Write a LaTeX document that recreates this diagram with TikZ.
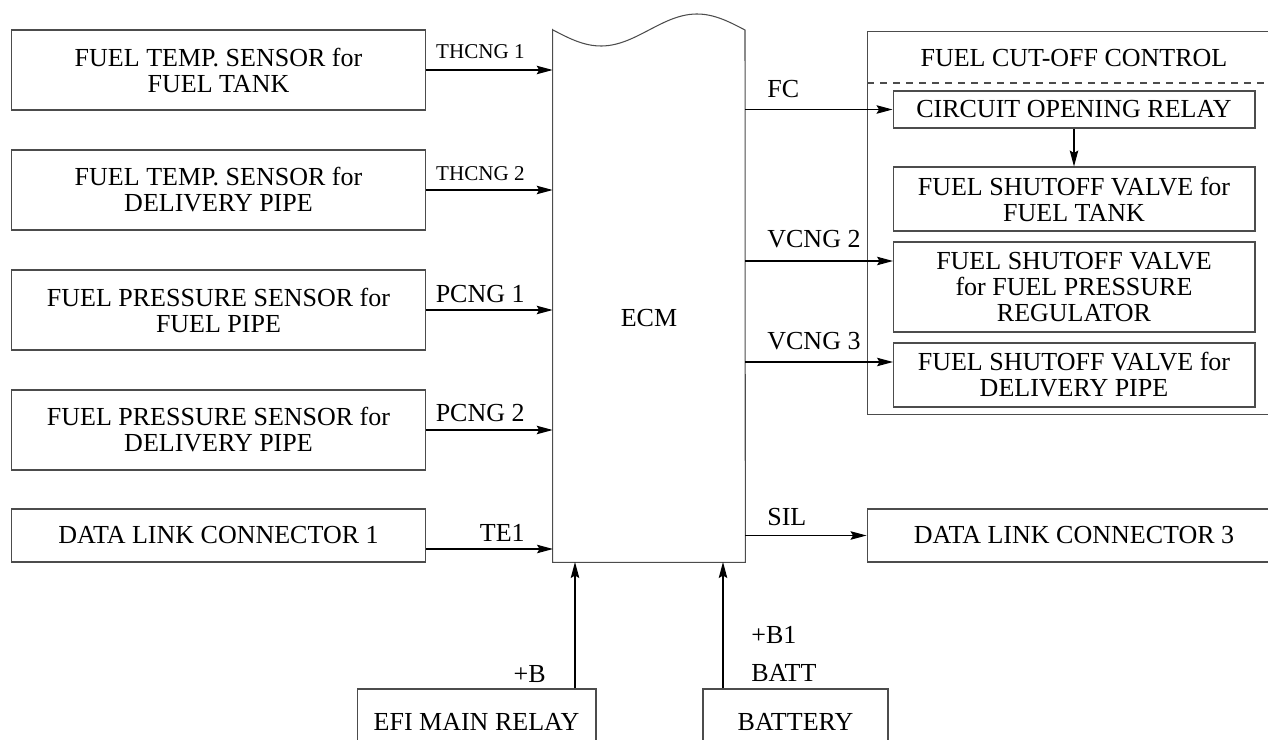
\documentclass[tikz,border=0pt]{standalone}
\usepackage{fontspec}
\setmainfont{Liberation Serif}
\usetikzlibrary{arrows.meta}

\begin{document}
\begin{tikzpicture}[x=0.02cm, y=-0.02cm,
    box/.style={draw=black!70, line width=0.6pt, inner sep=0pt, align=center, font=\fontsize{14.8pt}{14.8pt}\selectfont},
    lbl/.style={inner sep=0pt, font=\fontsize{14.8pt}{14.8pt}\selectfont},
    small/.style={inner sep=0pt, font=\fontsize{12pt}{12pt}\selectfont},
    sig/.style={-{Stealth[length=0.32cm, width=0.17cm, inset=0.05cm]}, line width=0.6pt}]
    \useasboundingbox (0,0) rectangle (1268,740);
    \clip (0,0) rectangle (1268,740);

    % Cảm biến bên trái
    \node[box, minimum width=8.3cm, minimum height=1.6cm] (tank) at (218.5,70) {FUEL TEMP. SENSOR for\\FUEL TANK};
    \node[box, minimum width=8.3cm, minimum height=1.6cm] (dpipe) at (218.5,190) {FUEL TEMP. SENSOR for\\DELIVERY PIPE};
    \node[box, minimum width=8.3cm, minimum height=1.6cm] (fpipe) at (218.5,310) {FUEL PRESSURE SENSOR for\\FUEL PIPE};
    \node[box, minimum width=8.3cm, minimum height=1.6cm] (pdpipe) at (218.5,430) {FUEL PRESSURE SENSOR for\\DELIVERY PIPE};
    \node[box, minimum width=8.3cm, minimum height=1.06cm] (dlc1) at (218.5,535.5) {DATA LINK CONNECTOR 1};

    % Khối ECM
    \node[inner sep=0pt, minimum width=3.84cm, minimum height=10.64cm] (ecm) at (649,296) {};
    \draw[draw=black!70, line width=0.6pt] (ecm.south west) -- (ecm.north west)
        -- plot[domain=0:192, samples=60, smooth] ({553+\x}, {30+16*sin(1.875*\x)})
        -- (ecm.south east) -- cycle;
    \node[lbl] (ecmtxt) at (649,318) {ECM};

    % Tín hiệu vào
    \draw[sig] (tank.east) -- (tank.east -| ecm.west);
    \draw[sig] (dpipe.east) -- (dpipe.east -| ecm.west);
    \draw[sig] (fpipe.east) -- (fpipe.east -| ecm.west);
    \draw[sig] (pdpipe.east) -- (pdpipe.east -| ecm.west);
    \coordinate (te) at (553,549);
    \draw[sig] (dlc1.east |- te) -- (te);
    \node[small, anchor=base east] (thcnga) at (525,59) {THCNG 1};
    \node[small, anchor=base east] (thcngb) at (525,180) {THCNG 2};
    \node[lbl, anchor=base east] (pcnga) at (525,302) {PCNG 1};
    \node[lbl, anchor=base east] (pcngb) at (525,421) {PCNG 2};
    \node[lbl, anchor=base east] (teone) at (525,541) {TE1};

    % Điều khiển cắt nhiên liệu
    \node[draw=black!70, line width=0.6pt, minimum width=8.28cm, minimum height=7.68cm] (fcc) at (1074,223) {};
    \node[lbl, anchor=base] (fcctxt) at (1074,67) {FUEL CUT-OFF CONTROL};
    \coordinate (dashl) at (867,83);
    \draw[draw=black!70, line width=0.6pt, dash pattern=on 4pt off 3.4pt] (dashl) -- (dashl -| fcc.east);
    \node[box, minimum width=7.24cm, minimum height=0.74cm] (relay) at (1074,109.5) {CIRCUIT OPENING RELAY};
    \node[box, minimum width=7.24cm, minimum height=1.28cm] (svtank) at (1074,199) {FUEL SHUTOFF VALVE for\\FUEL TANK};
    \node[box, minimum width=7.24cm, minimum height=1.8cm] (svreg) at (1074,287) {FUEL SHUTOFF VALVE\\for FUEL PRESSURE\\REGULATOR};
    \node[box, minimum width=7.24cm, minimum height=1.28cm] (svpipe) at (1074,375) {FUEL SHUTOFF VALVE for\\DELIVERY PIPE};
    \node[box, minimum width=8.28cm, minimum height=1.06cm] (dlc3) at (1074,535.5) {DATA LINK CONNECTOR 3};

    % Tín hiệu ra
    \draw[sig] (ecm.east |- relay.west) -- (relay.west);
    \draw[sig] (relay.south) -- (svtank.north);
    \coordinate (vb) at (893,261);
    \coordinate (vc) at (893,362);
    \draw[sig] (ecm.east |- vb) -- (vb);
    \draw[sig] (ecm.east |- vc) -- (vc);
    \draw[sig] (ecm.east |- dlc3.west) -- (dlc3.west);
    \node[lbl, anchor=base west] (fc) at (767,98) {FC};
    \node[lbl, anchor=base west] (vcngb) at (767,247) {VCNG 2};
    \node[lbl, anchor=base west] (vcngc) at (767,349) {VCNG 3};
    \node[lbl, anchor=base west] (sil) at (767,525) {SIL};

    % Nguồn
    \node[box, minimum width=4.78cm, minimum height=1.32cm] (efi) at (476.5,722) {EFI MAIN RELAY};
    \node[box, minimum width=3.7cm, minimum height=1.32cm] (batt) at (795.5,722) {BATTERY};
    \coordinate (pb) at (575,562);
    \coordinate (pbb) at (723,562);
    \draw[sig] (efi.north -| pb) -- (pb);
    \draw[sig] (batt.north -| pbb) -- (pbb);
    \node[lbl, anchor=base east] (plusb) at (546,682) {+B};
    \node[lbl, anchor=base west] (plusbb) at (751,643) {+B1};
    \node[lbl, anchor=base west] (batttxt) at (751,681) {BATT};
\end{tikzpicture}
\end{document}
